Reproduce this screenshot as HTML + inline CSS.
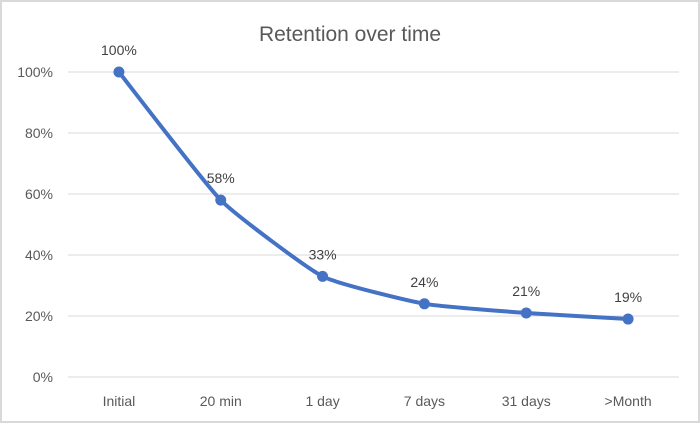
<!DOCTYPE html>
<html><head><meta charset="utf-8"><style>
body{margin:0;background:#fff}
svg{display:block;font-family:"Liberation Sans",sans-serif}
</style></head><body>
<svg width="700" height="423" viewBox="0 0 700 423">
<rect x="1" y="1" width="698" height="421" fill="#fff" stroke="#d9d9d9" stroke-width="2"/>
<text x="350" y="41" text-anchor="middle" font-size="21" fill="#595959">Retention over time</text>
<g id="grid"></g><g id="xlabels"></g><g id="series"></g>
</svg>
<script>
const categories=["Initial","20 min","1 day","7 days","31 days",">Month"];
const values=[100,58,33,24,21,19];
const yTicks=[0,20,40,60,80,100];
const NS="http://www.w3.org/2000/svg";
const x0=68,x1=679,yTop=72,yBot=377;
const xs=i=>x0+(x1-x0)*(i+0.5)/categories.length;
const ys=v=>yBot-(yBot-yTop)*v/100;
function mk(t,a,p){const e=document.createElementNS(NS,t);for(const k in a)e.setAttribute(k,a[k]);p.appendChild(e);return e;}
const grid=document.getElementById('grid');
yTicks.forEach(t=>{
 const l=mk('line',{x1:x0,x2:x1,y1:ys(t),y2:ys(t),stroke:'#d9d9d9','stroke-width':1},grid);
 
 
 const tx=mk('text',{x:53,y:ys(t)+5,'text-anchor':'end','font-size':14,fill:'#595959'},grid);
 tx.textContent=t+'%';
 
 
});
const xl=document.getElementById('xlabels');
categories.forEach((c,i)=>{
 const tx=mk('text',{x:xs(i),y:406,'text-anchor':'middle','font-size':14,fill:'#595959'},xl);
 tx.textContent=c;
 
 
});
const s=document.getElementById('series');
const pts=values.map((v,i)=>[xs(i),ys(v)]);
let d='M'+pts[0][0]+','+pts[0][1];
const k=0.15;
for(let i=0;i<pts.length-1;i++){
 const p0=pts[Math.max(0,i-1)],p1=pts[i],p2=pts[i+1],p3=pts[Math.min(pts.length-1,i+2)];
 const c1=[p1[0]+(p2[0]-p0[0])*k/2,p1[1]+(p2[1]-p0[1])*k/2];
 const c2=[p2[0]-(p3[0]-p1[0])*k/2,p2[1]-(p3[1]-p1[1])*k/2];
 d+=' C'+c1+' '+c2+' '+p2;
}
const path=mk('path',{d:d,fill:'none',stroke:'#4472c4','stroke-width':4,'stroke-linejoin':'round'},s);


values.forEach((v,i)=>{
 const c=mk('circle',{cx:xs(i),cy:ys(v),r:5.5,fill:'#4472c4'},s);
 
 
 const t=mk('text',{x:xs(i),y:ys(v)-17,'text-anchor':'middle','font-size':14,fill:'#404040'},s);
 t.textContent=v+'%';
 
 
});
</script>
</body></html>
